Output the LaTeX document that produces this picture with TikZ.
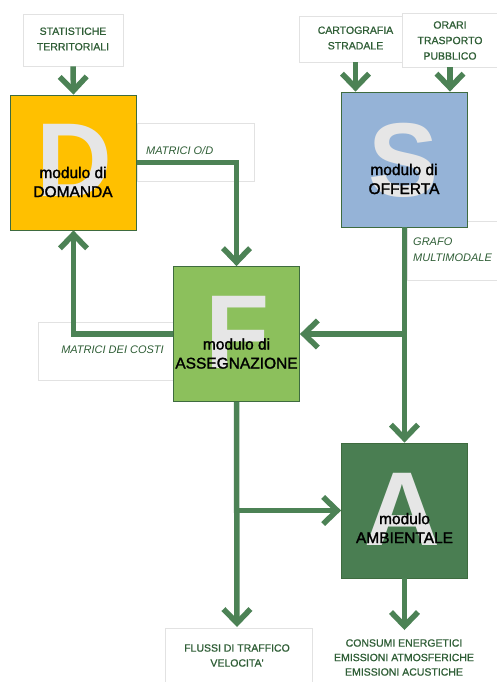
\documentclass[tikz,border=0pt]{standalone}
\usepackage{fontspec}
\setmainfont{Liberation Sans}
\newfontfamily\modfont{Liberation Sans}[RawFeature={embolden=1.6}]
\newfontfamily\lblfont{Liberation Sans}[RawFeature={embolden=0.8}]
\usetikzlibrary{arrows.meta}
\definecolor{flowgreen}{HTML}{4C8255}
\definecolor{txtgreen}{HTML}{2F5E36}
\definecolor{boxedge}{HTML}{3E6B3F}
\definecolor{dfill}{HTML}{FFC000}
\definecolor{sfill}{HTML}{95B3D7}
\definecolor{ffill}{HTML}{8CC05C}
\definecolor{afill}{HTML}{4A7E52}
\definecolor{faintline}{HTML}{E2E2E2}
\definecolor{letterfill}{HTML}{E6E6E6}
\tikzset{
  modbox/.style={draw=boxedge, line width=0.8pt, minimum width=126pt, minimum height=135pt, inner sep=0pt},
  bigletter/.style={text=letterfill, inner sep=0pt, font=\fontsize{105}{105}\selectfont\bfseries},
  modtext/.style={align=center, inner sep=0pt, text=black, font=\modfont\fontsize{15.5}{19}\selectfont},
  lblbox/.style={draw=faintline, fill=white, line width=0.8pt, inner sep=0pt},
  iotext/.style={align=center, inner sep=0pt, text=txtgreen, font=\lblfont\fontsize{10.5}{15.5}\selectfont},
  flowlabel/.style={inner sep=0pt, text=txtgreen, font=\fontsize{11}{16}\selectfont\itshape},
  faint/.style={draw=faintline, line width=0.8pt},
  flow/.style={draw=flowgreen, line width=5.5pt, -{Straight Barb[length=14pt,width=27pt,line width=5.5pt]}}
}
\begin{document}
\begin{tikzpicture}[x=1pt,y=-1pt]
\useasboundingbox[fill=white] (0,0) rectangle (496,682);

% faint label frames behind flows
\draw[faint] (137,123) rectangle (254,181);
\draw[faint] (38,322) rectangle (174,380);
\draw[faint] (407,221) rectangle (500,280);
\draw[faint] (165,690) |- (312,628) -- (312,690);

% input label boxes
\node[lblbox, minimum width=100pt, minimum height=52pt] (statbox) at (73,40) {};
\node[iotext] (stat) at (73,39) {STATISTICHE\\TERRITORIALI};
\node[lblbox, minimum width=104pt, minimum height=46pt] (cartobox) at (351,39) {};
\node[iotext] (carto) at (355.5,38) {CARTOGRAFIA\\STRADALE};
\node[lblbox, minimum width=98pt, minimum height=54pt] (orarbox) at (451,40) {};
\node[iotext] (orari) at (450,40.5) {ORARI\\TRASPORTO\\PUBBLICO};

% module boxes
\node[modbox, fill=dfill] (D) at (73.5,162.5) {};
\node[bigletter] (Dl) at (74,160) {D};
\node[modtext] (Dt) at (73,182) {modulo di\\DOMANDA};

\node[modbox, fill=sfill] (S) at (404.5,159.5) {};
\node[bigletter] (Sl) at (403.5,160) {S};
\node[modtext] (St) at (404,179) {modulo di\\OFFERTA};

\node[modbox, fill=ffill] (F) at (236.5,334) {};
\node[bigletter] (Fl) at (238,332) {F};
\node[modtext] (Ft) at (236.5,353.5) {modulo di\\ASSEGNAZIONE};

\node[modbox, fill=afill] (A) at (404.5,510.5) {};
\node[bigletter] (Al) at (402.5,509) {A};
\node[modtext] (At) at (404.5,528) {modulo\\AMBIENTALE};

% flow labels
\node[flowlabel, anchor=west] (odl) at (146,151) {MATRICI O/D};
\node[flowlabel] (costl) at (112.5,350) {MATRICI DEI COSTI};
\node[flowlabel, anchor=west, align=left] (grafol) at (413,250) {GRAFO\\MULTIMODALE};

% output labels
\node[iotext, font=\lblfont\fontsize{10.5}{15}\selectfont] (flussi) at (237,655.5) {FLUSSI DI TRAFFICO\\VELOCITA'};
\node[iotext, font=\lblfont\fontsize{10.5}{14.5}\selectfont] (consumi) at (404,657.5) {CONSUMI ENERGETICI\\EMISSIONI ATMOSFERICHE\\EMISSIONI ACUSTICHE};

% coordinates
\coordinate (jS) at (S.south |- F.east);
\coordinate (jF) at (F.south |- A.west);
\coordinate (outF) at (237,627);
\coordinate (outA) at (404.5,630);

% connectors
\draw[flow] (statbox.south) -- (D.north);
\draw[flow] (cartobox.south -| carto.south) -- (carto.south |- S.north);
\draw[flow] (orarbox.south -| orari.south) -- (orari.south |- S.north);
\draw[flow] (D.east) -| (F.north);
\draw[flow] (F.west) -| (D.south);
\draw[flow] (S.south) -- (A.north);
\draw[flow] (jS) -- (F.east);
\draw[flow] (F.south) -- (outF);
\draw[flow] (jF) -- (A.west);
\draw[flow] (A.south) -- (outA);
\end{tikzpicture}
\end{document}
